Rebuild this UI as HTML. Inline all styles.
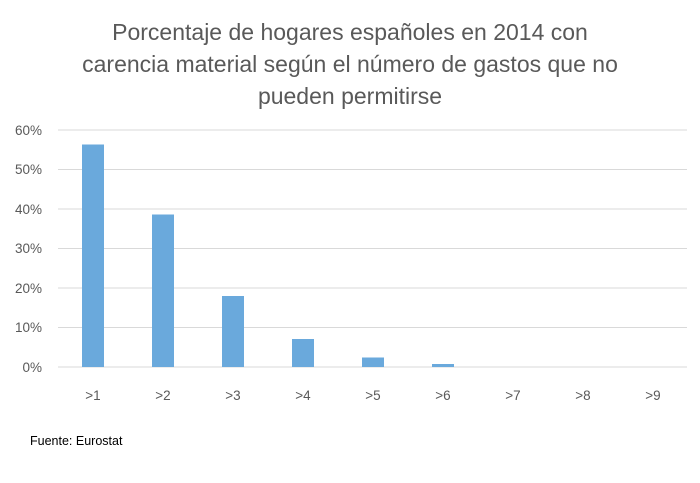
<!DOCTYPE html>
<html><head><style>
body{margin:0;background:#fff;}
</style></head><body>
<svg width="700" height="478" xmlns="http://www.w3.org/2000/svg" font-family="Liberation Sans, sans-serif">
<rect width="700" height="478" fill="#fff"/>
<g font-size="23" fill="#595959" text-anchor="middle">
<text x="350" y="40">Porcentaje de hogares españoles en 2014 con</text>
<text x="350" y="72">carencia material según el número de gastos que no</text>
<text x="350" y="104">pueden permitirse</text>
</g>
<g stroke="#d9d9d9" stroke-width="1">
<line x1="58" x2="687" y1="130" y2="130"/>
<line x1="58" x2="687" y1="169.5" y2="169.5"/>
<line x1="58" x2="687" y1="209" y2="209"/>
<line x1="58" x2="687" y1="248.5" y2="248.5"/>
<line x1="58" x2="687" y1="288" y2="288"/>
<line x1="58" x2="687" y1="327.5" y2="327.5"/>
<line x1="58" x2="687" y1="367" y2="367"/>
</g>
<g font-size="13.5" fill="#595959" text-anchor="end">
<text x="42" y="135">60%</text>
<text x="42" y="174">50%</text>
<text x="42" y="214">40%</text>
<text x="42" y="253">30%</text>
<text x="42" y="293">20%</text>
<text x="42" y="332">10%</text>
<text x="42" y="372">0%</text>
</g>
<g fill="#6aa9dc">
<rect x="82" y="144.5" width="22" height="222.5"/>
<rect x="152" y="214.5" width="22" height="152.5"/>
<rect x="222" y="296" width="22" height="71"/>
<rect x="292" y="339" width="22" height="28"/>
<rect x="362" y="357.5" width="22" height="9.5"/>
<rect x="432" y="364" width="22" height="3"/>
</g>
<g font-size="13.5" fill="#595959" text-anchor="middle">
<text x="93" y="400">&gt;1</text>
<text x="163" y="400">&gt;2</text>
<text x="233" y="400">&gt;3</text>
<text x="303" y="400">&gt;4</text>
<text x="373" y="400">&gt;5</text>
<text x="443" y="400">&gt;6</text>
<text x="513" y="400">&gt;7</text>
<text x="583" y="400">&gt;8</text>
<text x="653" y="400">&gt;9</text>
</g>
<text x="30" y="445" font-size="12.5" fill="#000">Fuente: Eurostat</text>
</svg>
</body></html>
